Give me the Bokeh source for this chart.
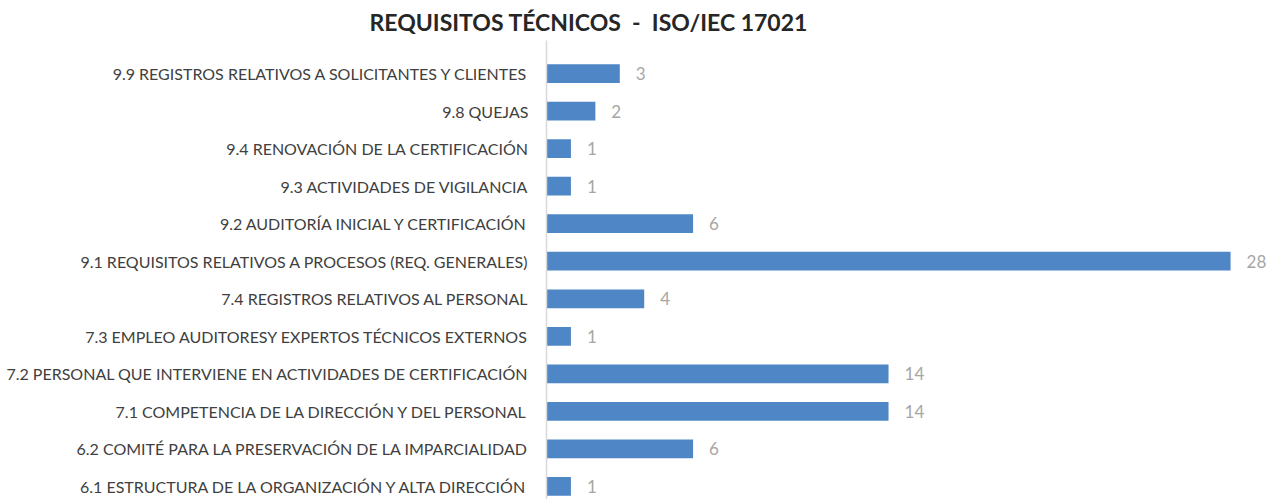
from bokeh.plotting import figure
from bokeh.models import Range1d, FixedTicker, ColumnDataSource, Title
from bokeh.core.properties import value
from bokeh.embed import file_html
from bokeh.resources import INLINE

categories = [
    "6.1 ESTRUCTURA DE LA ORGANIZACIÓN Y ALTA DIRECCIÓN",
    "6.2 COMITÉ PARA LA PRESERVACIÓN DE LA IMPARCIALIDAD",
    "7.1 COMPETENCIA DE LA DIRECCIÓN Y DEL PERSONAL",
    "7.2 PERSONAL QUE INTERVIENE EN ACTIVIDADES DE CERTIFICACIÓN",
    "7.3 EMPLEO AUDITORESY EXPERTOS TÉCNICOS EXTERNOS",
    "7.4 REGISTROS RELATIVOS AL PERSONAL",
    "9.1 REQUISITOS RELATIVOS A PROCESOS (REQ. GENERALES)",
    "9.2 AUDITORÍA INICIAL Y CERTIFICACIÓN",
    "9.3 ACTIVIDADES DE VIGILANCIA",
    "9.4 RENOVACIÓN DE LA CERTIFICACIÓN",
    "9.8 QUEJAS",
    "9.9 REGISTROS RELATIVOS A SOLICITANTES Y CLIENTES",
]
counts = [1, 6, 14, 14, 1, 4, 28, 6, 1, 1, 2, 3]
title_text = "REQUISITOS TÉCNICOS \u00a0-\u00a0 ISO/IEC 17021"

idx = list(range(len(categories)))
src = ColumnDataSource(dict(y=idx, v=counts, lab=[str(c) for c in counts]))

p = figure(width=1276, height=499, output_backend="svg", toolbar_location=None,
           x_range=Range1d(0, 29.88), y_range=Range1d(-0.347, 11.88),
           min_border_left=546, min_border_right=0, min_border_bottom=0, min_border_top=0)
p.title = Title(text=title_text, text_font="Lato", text_font_size="23px",
                text_font_style="bold", text_color="#262626", align="left", offset=-177)
p.outline_line_color = None
p.grid.visible = False
p.xaxis.visible = False

p.hbar(y="y", right="v", left=0, height=0.5, source=src, fill_color="#4E86C6",
       line_color=None)
p.text(x="v", y="y", text="lab", source=src, x_offset=16, text_baseline="middle",
       text_font=value("Lato"), text_font_size="17px", text_color="#A6A6A6")

ax = p.yaxis[0]
ax.ticker = FixedTicker(ticks=idx)
ax.major_label_overrides = {i: c for i, c in enumerate(categories)}
ax.major_tick_line_color = None
ax.minor_tick_line_color = None
ax.axis_line_color = "#D9D9D9"
ax.axis_line_width = 1.5
ax.major_label_standoff = 12
ax.major_label_text_font = "Lato"
ax.major_label_text_font_size = "16px"
ax.major_label_text_color = "#404040"

open("out.html", "w").write(file_html(p, INLINE))
